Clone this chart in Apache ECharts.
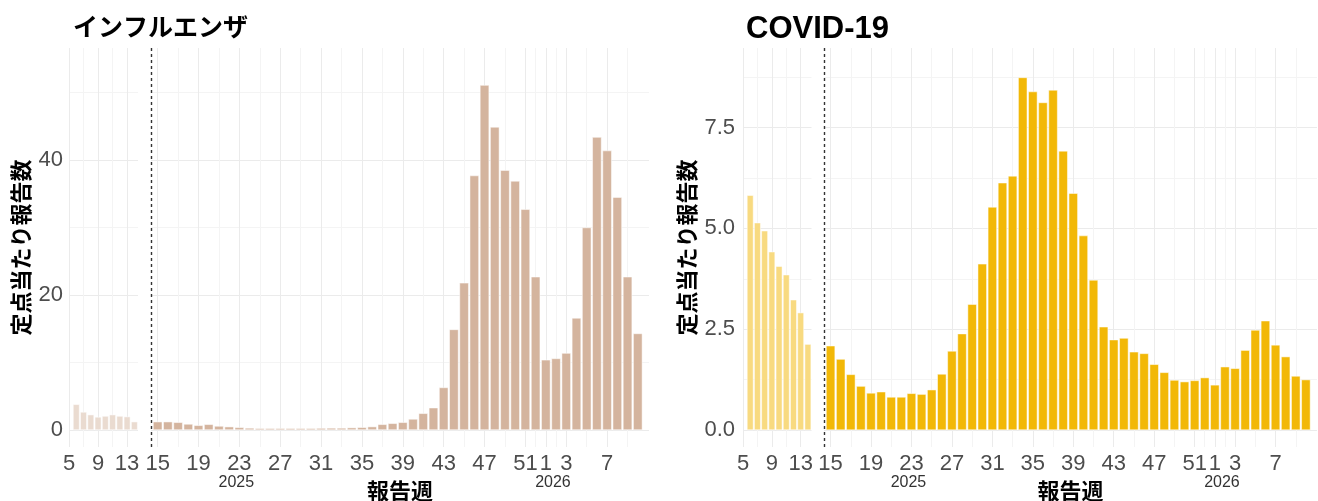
<!DOCTYPE html>
<html>
<head>
<meta charset="utf-8">
<script src="https://cdn.jsdelivr.net/npm/echarts@6/dist/echarts.min.js"></script>
<style>
  html, body { margin: 0; padding: 0; background: #fff; }
  #main { width: 1318px; height: 501px; }
</style>
</head>
<body>
<div id="main"></div>
<script>
// 前シーズン分 (第6〜14週、薄い色で表示)
const weeksPrev = [6, 7, 8, 9, 10, 11, 12, 13, 14]
const fluPrev = [3.8, 2.67, 2.27, 1.93, 2.07, 2.27, 2.07, 1.98, 1.23]
const covidPrev = [5.82, 5.14, 4.94, 4.42, 4.06, 3.85, 3.23, 2.91, 2.13]

// 今シーズン分 (2025年第15週〜2026年第10週)
const weeks2025 = [15, 16, 17, 18, 19, 20, 21, 22, 23, 24, 25, 26, 27, 28, 29, 30, 31, 32, 33,
  34, 35, 36, 37, 38, 39, 40, 41, 42, 43, 44, 45, 46, 47, 48, 49, 50, 51, 52]
const weeks2026 = [1, 2, 3, 4, 5, 6, 7, 8, 9, 10]
const fluMain = [1.23, 1.23, 1.14, 0.89, 0.69, 0.84, 0.59, 0.49, 0.39, 0.3,
  0.25, 0.25, 0.25, 0.25, 0.25, 0.25, 0.28, 0.3, 0.3, 0.35,
  0.4, 0.5, 0.84, 0.99, 1.14, 1.63, 2.47, 3.3, 6.3, 14.9,
  21.8, 37.7, 51.1, 44.9, 38.5, 36.9, 32.7, 22.7,
  10.4, 10.6, 11.4, 16.6, 30.0, 43.4, 41.4, 34.5, 22.7, 14.3]
const covidMain = [2.09, 1.76, 1.38, 1.09, 0.92, 0.95, 0.82, 0.82, 0.91, 0.89,
  1.0, 1.39, 1.96, 2.39, 3.12, 4.12, 5.53, 6.13, 6.30, 8.74,
  8.39, 8.12, 8.43, 6.92, 5.87, 4.82, 3.72, 2.56, 2.24, 2.28,
  1.94, 1.90, 1.63, 1.43, 1.24, 1.20, 1.23, 1.30,
  1.12, 1.57, 1.53, 1.98, 2.48, 2.71, 2.11, 1.82, 1.34, 1.25]

// 目盛 (2026年の週は 52 + 週番号 の位置に置く)
const prevTicks = [5, 9, 13]
const prevMinor = [7, 11]
const mainTicks = [15, 19, 23, 27, 31, 35, 39, 43, 47, 51, 53, 55, 59]
const mainMinor = [17, 21, 25, 29, 33, 37, 41, 45, 49, 52, 54, 57, 61]
const yearLabels = ['2025', '2026']
const yearPos = [22.7, 53.7]
const fluTicks = [0, 20, 40]
const fluMinor = [10, 30, 50]
const covidTicks = [0, 2.5, 5, 7.5]
const covidMinor = [1.25, 3.75, 6.25, 8.75]

const mainX = weeks2025.concat(weeks2026.map(w => w + 52))

const font = '"Liberation Sans", Arial, sans-serif'
const jpFont = '"Noto Sans CJK JP", sans-serif'
const gridMajor = '#EBEBEB'
const gridMinor = '#F4F4F4'

const chart = echarts.init(document.getElementById('main'))

const grids = []
const xAxes = []
const yAxes = []
const series = []

function axis (pos, gi, range, lines, color, label) {
  return {
    type: 'value',
    position: pos,
    gridIndex: gi,
    min: range[0],
    max: range[1],
    axisLine: { show: false },
    axisTick: { show: false, customValues: lines },
    splitLine: { show: lines.length > 0, customValues: lines, lineStyle: { color: color, width: 1 } },
    axisLabel: label
      ? Object.assign({ color: '#4D4D4D', fontSize: 22, fontFamily: font, showMinLabel: true, showMaxLabel: true }, label)
      : { show: false }
  }
}

const nameStyle = { fontFamily: jpFont, fontSize: 22, fontWeight: 'bold', color: '#000' }

// 1パネル = 前シーズンの小さいグリッド + 今シーズンのグリッド
function addPanel (o) {
  // 前シーズン
  let gi = grids.length
  grids.push({ left: o.prevLeft, top: 48, width: o.prevWidth, height: 399, outerBoundsMode: 'none' })
  let xi = xAxes.length
  xAxes.push(axis('bottom', gi, [5, 14.5], prevTicks, gridMajor, { customValues: prevTicks, margin: 6 }))
  xAxes.push(axis('bottom', gi, [5, 14.5], prevMinor, gridMinor, null))
  let yi = yAxes.length
  yAxes.push(Object.assign(axis('left', gi, o.yRange, o.yTicks, gridMajor, {
    customValues: o.yTicks, margin: o.labelMargin, formatter: o.yFormat
  }), {
    name: '定点当たり報告数', nameLocation: 'middle', nameRotate: 90, nameGap: o.nameGap, nameTextStyle: nameStyle
  }))
  yAxes.push(axis('left', gi, o.yRange, o.yMinor, gridMinor, null))
  series.push({
    type: 'bar',
    xAxisIndex: xi,
    yAxisIndex: yi,
    barWidth: 6.5,
    itemStyle: { color: o.light, borderColor: '#fff', borderWidth: 0.5 },
    data: weeksPrev.map((w, i) => [w, o.prev[i]])
  })

  // 今シーズン
  gi = grids.length
  grids.push({ left: o.mainLeft, top: 48, width: o.mainWidth, height: 399, outerBoundsMode: 'none' })
  xi = xAxes.length
  xAxes.push(Object.assign(axis('bottom', gi, [14.35, 63.1], mainTicks, gridMajor, {
    customValues: mainTicks, margin: 6, formatter: v => (v > 52 ? v - 52 : v)
  }), {
    name: '報告週', nameLocation: 'middle', nameGap: 27, nameTextStyle: nameStyle
  }))
  xAxes.push(axis('bottom', gi, [14.35, 63.1], mainMinor, gridMinor, null))
  xAxes.push(axis('bottom', gi, [14.35, 63.1], [], gridMinor, {
    customValues: yearPos, margin: 28, fontSize: 16, color: '#333',
    formatter: v => yearLabels[yearPos.indexOf(v)]
  }))
  yi = yAxes.length
  yAxes.push(axis('left', gi, o.yRange, o.yTicks, gridMajor, null))
  yAxes.push(axis('left', gi, o.yRange, o.yMinor, gridMinor, null))
  series.push({
    type: 'bar',
    xAxisIndex: xi,
    yAxisIndex: yi,
    barWidth: o.barWidth,
    itemStyle: { color: o.color, borderColor: '#fff', borderWidth: 0.5 },
    data: mainX.map((x, i) => [x, o.main[i]]),
    markLine: {
      silent: true,
      symbol: ['none', 'none'],
      label: { show: false },
      lineStyle: { color: '#333', type: [3, 3], width: 1.4 },
      data: [{ xAxis: 14.4 }]
    }
  })
}

addPanel({
  prevLeft: 69, prevWidth: 69, mainLeft: 151, mainWidth: 498,
  yRange: [-2.52, 56.6], yTicks: fluTicks, yMinor: fluMinor,
  yFormat: v => v, labelMargin: 6, nameGap: 37,
  prev: fluPrev, main: fluMain, light: '#EADBD0', color: '#D4B49E', barWidth: 9.2
})
addPanel({
  prevLeft: 743, prevWidth: 68.5, mainLeft: 824, mainWidth: 493,
  yRange: [-0.42, 9.47], yTicks: covidTicks, yMinor: covidMinor,
  yFormat: v => v.toFixed(1), labelMargin: 8, nameGap: 45,
  prev: covidPrev, main: covidMain, light: '#F8DA80', color: '#F2B807', barWidth: 9.1
})

chart.setOption({
  animation: false,
  backgroundColor: '#fff',
  title: [
    { text: 'インフルエンザ', left: 68, top: 9, textStyle: { fontFamily: jpFont, fontSize: 25, fontWeight: 'bold', color: '#000' } },
    { text: 'COVID-19', left: 741, top: 9, textStyle: { fontFamily: font, fontSize: 31, fontWeight: 'bold', color: '#000' } }
  ],
  grid: grids,
  xAxis: xAxes,
  yAxis: yAxes,
  series: series
})
</script>
</body>
</html>
